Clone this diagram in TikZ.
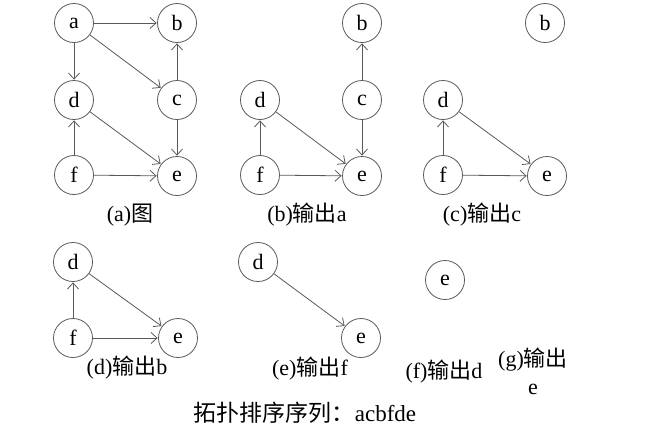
\documentclass[tikz,border=0pt]{standalone}
\usepackage{fontspec}
\setmainfont{Liberation Serif}
\newfontfamily\cjk{Noto Sans CJK SC}
\usetikzlibrary{arrows.meta}
\newcommand{\zh}[1]{{\cjk #1}}
\tikzset{
  vtx/.style={circle,draw=black!65,line width=0.8pt,minimum size=39pt,inner sep=0pt,font=\fontsize{22}{24}\selectfont},
  arc/.style={draw=black!65,line width=0.8pt,-{Straight Barb[length=6pt,width=11pt,line width=0.8pt]},shorten >=0.5pt},
  lbl/.style={font=\fontsize{22}{26}\selectfont,inner sep=0pt,align=center},
}
\begin{document}
\begin{tikzpicture}[x=1pt,y=-1pt]
\useasboundingbox (0,0) rectangle (656,432);
% (a)
\node[vtx] (a1) at (74,23) {a};
\node[vtx] (b1) at (177,23) {b};
\node[vtx] (d1) at (74,100) {d};
\node[vtx] (c1) at (177,100) {c};
\node[vtx] (f1) at (74,175) {f};
\node[vtx] (e1) at (177,176) {e};
\draw[arc] (a1) -- (b1);
\draw[arc] (a1) -- (d1);
\draw[arc] (a1) -- (c1);
\draw[arc] (c1) -- (b1);
\draw[arc] (c1) -- (e1);
\draw[arc] (d1) -- (e1);
\draw[arc] (f1) -- (d1);
\draw[arc] (f1) -- (e1);
\node[lbl] (la) at (130,215) {(a)\zh{图}};
% (b)
\node[vtx] (b2) at (362,23) {b};
\node[vtx] (d2) at (260,100) {d};
\node[vtx] (c2) at (362,100) {c};
\node[vtx] (f2) at (260,175) {f};
\node[vtx] (e2) at (362,176) {e};
\draw[arc] (c2) -- (b2);
\draw[arc] (c2) -- (e2);
\draw[arc] (d2) -- (e2);
\draw[arc] (f2) -- (d2);
\draw[arc] (f2) -- (e2);
\node[lbl] (lb) at (307,215) {(b)\zh{输出}a};
% (c)
\node[vtx] (b3) at (545,23) {b};
\node[vtx] (d3) at (443,100) {d};
\node[vtx] (f3) at (443,175) {f};
\node[vtx] (e3) at (547,176) {e};
\draw[arc] (d3) -- (e3);
\draw[arc] (f3) -- (d3);
\draw[arc] (f3) -- (e3);
\node[lbl] (lc) at (482,215) {(c)\zh{输出}c};
% (d)
\node[vtx] (d4) at (73,262) {d};
\node[vtx] (f4) at (73,338) {f};
\node[vtx] (e4) at (178,338) {e};
\draw[arc] (f4) -- (d4);
\draw[arc] (d4) -- (e4);
\draw[arc] (f4) -- (e4);
\node[lbl] (ld) at (127,368) {(d)\zh{输出}b};
% (e)
\node[vtx] (d5) at (258,262) {d};
\node[vtx] (e5) at (361,338) {e};
\draw[arc] (d5) -- (e5);
\node[lbl] (le) at (310,369) {(e)\zh{输出}f};
% (f)
\node[lbl] (lf) at (444,372) {(f)\zh{输出}d};
\node[vtx] (e6) at (445,280) {e};
% (g)
\node[lbl,font=\fontsize{22}{28}\selectfont] (lg) at (533,371) {(g)\zh{输出}\\e};
% sequence
\node[lbl,font=\fontsize{23}{26}\selectfont] (seq) at (305,413) {\zh{拓扑排序序列：}acbfde};
\end{tikzpicture}
\end{document}
